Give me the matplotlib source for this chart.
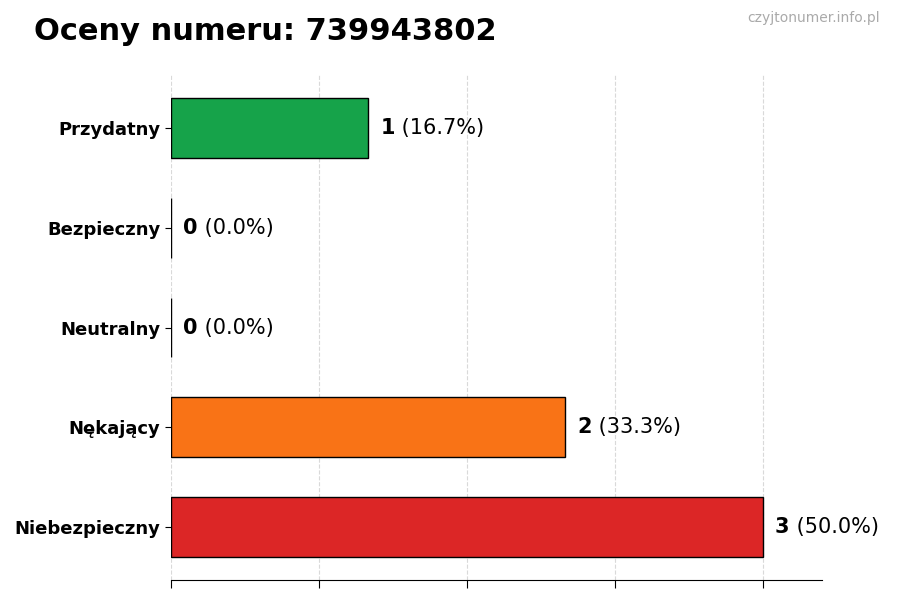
import matplotlib
matplotlib.use("Agg")
import matplotlib.pyplot as plt

categories = ["Niebezpieczny", "Nękający", "Neutralny", "Bezpieczny", "Przydatny"]
counts = [3, 2, 0, 0, 1]
percents = [50.0, 33.3, 0.0, 0.0, 16.7]
colors = ["#dc2626", "#f97316", "#9ca3af", "#3b82f6", "#16a34a"]

fig = plt.figure(figsize=(9, 6), dpi=100)
ax = fig.add_axes([0.19, 0.0333, 0.723, 0.8417])

y = list(range(len(categories)))
ax.barh(y, counts, height=0.6, color=colors, edgecolor="black", linewidth=1, zorder=3)
ax.set_yticks(y)
ax.set_yticklabels(categories, fontsize=13, fontweight="bold")
ax.set_xlim(0, 3.3)
ax.set_xticks([0, 0.75, 1.5, 2.25, 3.0])
ax.set_xticklabels([])
ax.grid(axis="x", linestyle="--", color="#d9d9d9", linewidth=0.8, zorder=0)
for s in ["top", "right", "left"]:
    ax.spines[s].set_visible(False)
ax.tick_params(axis="x", length=6)
ax.tick_params(axis="y", length=4)

fig.canvas.draw()
for yi, c, p in zip(y, counts, percents):
    t1 = ax.annotate(f"{c}", xy=(c, yi), xytext=(9, 0), textcoords="offset points",
                     va="center", ha="left", fontsize=15, fontweight="bold")
    ax.annotate(f" ({p:.1f}%)", xy=(1, 0.5), xycoords=t1, va="center", ha="left", fontsize=15)

fig.text(0.038, 0.947, "Oceny numeru: 739943802", fontsize=22, fontweight="bold", va="center", ha="left")
fig.text(0.978, 0.97, "czyjtonumer.info.pl", fontsize=10, color="#aaaaaa", va="center", ha="right")

fig.savefig("out.png", dpi=100)
